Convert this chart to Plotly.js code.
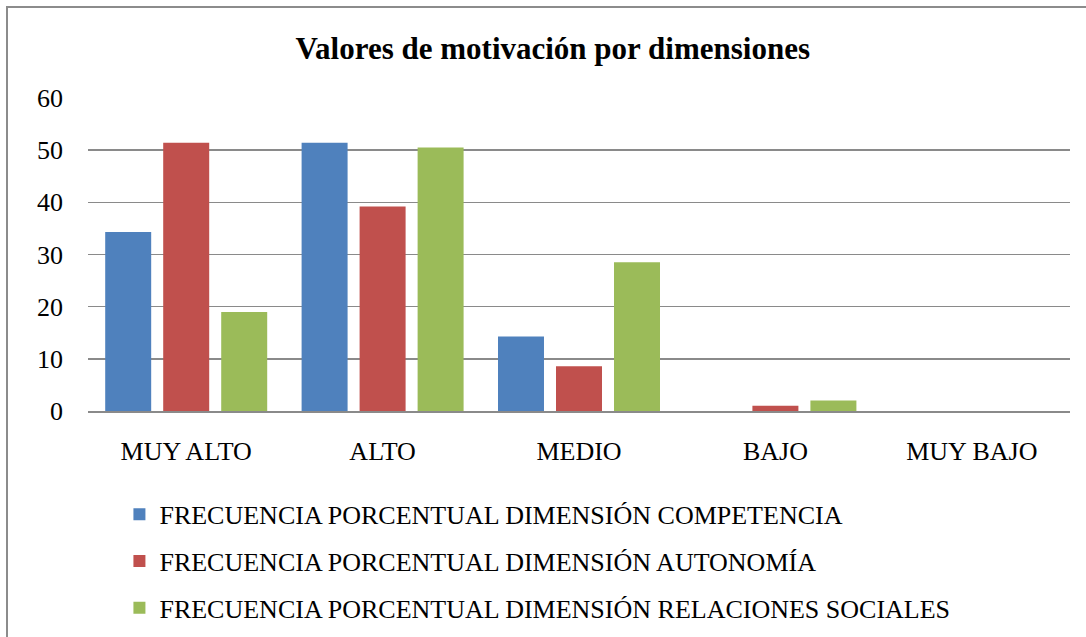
<!DOCTYPE html>
<html>
<head>
<meta charset="utf-8">
<script src="https://cdn.plot.ly/plotly-3.0.1.min.js"></script>
<style>
  body { margin: 0; }
  #frame {
    position: absolute; left: 6px; top: 6px; width: 1120px; height: 700px;
    border: 2px solid #8c8c8c; pointer-events: none;
  }
</style>
</head>
<body>
<div id="chart"></div>
<div id="frame"></div>
<script>
const categories = ['MUY ALTO', 'ALTO', 'MEDIO', 'BAJO', 'MUY BAJO'];
const seriesNames = [
  'FRECUENCIA PORCENTUAL DIMENSIÓN COMPETENCIA',
  'FRECUENCIA PORCENTUAL DIMENSIÓN AUTONOMÍA',
  'FRECUENCIA PORCENTUAL DIMENSIÓN RELACIONES SOCIALES',
];
const competencia = [34.3, 51.4, 14.3, 0, 0];
const autonomia = [51.4, 39.2, 8.6, 1.0, 0];
const relaciones = [19.0, 50.5, 28.5, 2.0, 0];
const yTicks = [0, 10, 20, 30, 40, 50, 60];

const colors = ['#4f81bd', '#c0504d', '#9bbb59'];

const traces = [competencia, autonomia, relaciones].map((values, i) => ({
  type: 'bar',
  x: categories,
  y: values,
  name: seriesNames[i],
  legendgroup: 'g' + i,
  marker: { color: colors[i] },
}));

const layout = {
  width: 1086,
  height: 637,
  margin: { l: 88, r: 16, t: 98, b: 226, autoexpand: false },
  font: { family: 'Liberation Serif', size: 26, color: '#000' },
  title: {
    text: '<b>Valores de motivación por dimensiones</b>',
    font: { family: 'Liberation Serif', size: 31 },
    x: 0.509,
    xanchor: 'center',
    y: 0.925,
    yanchor: 'middle',
  },
  barmode: 'group',
  bargap: 0.114,
  bargroupgap: 0.207,
  xaxis: {
    type: 'category',
    showgrid: false,
    showline: true,
    linecolor: '#8a8a8a',
    linewidth: 2,
    ticks: '',
    ticklabelstandoff: 16,
  },
  yaxis: {
    range: [0, 60],
    tickvals: yTicks,
    showgrid: true,
    gridcolor: '#8a8a8a',
    gridwidth: 1.5,
    zeroline: false,
    showline: false,
    ticks: '',
    ticklabelstandoff: 24,
  },
  showlegend: true,
  legend: {
    x: 0.032,
    xanchor: 'left',
    y: -0.255,
    yanchor: 'top',
    tracegroupgap: 10,
    itemwidth: 30,
    bgcolor: 'rgba(0,0,0,0)',
  },
};

Plotly.newPlot('chart', traces, layout, { staticPlot: true }).then((gd) => {
  // second pass so text is measured and painted with the serif face
  return Plotly.redraw(gd);
}).then(() => {
  document.getElementById('frame').dataset.ready = '1';
});
</script>
</body>
</html>
